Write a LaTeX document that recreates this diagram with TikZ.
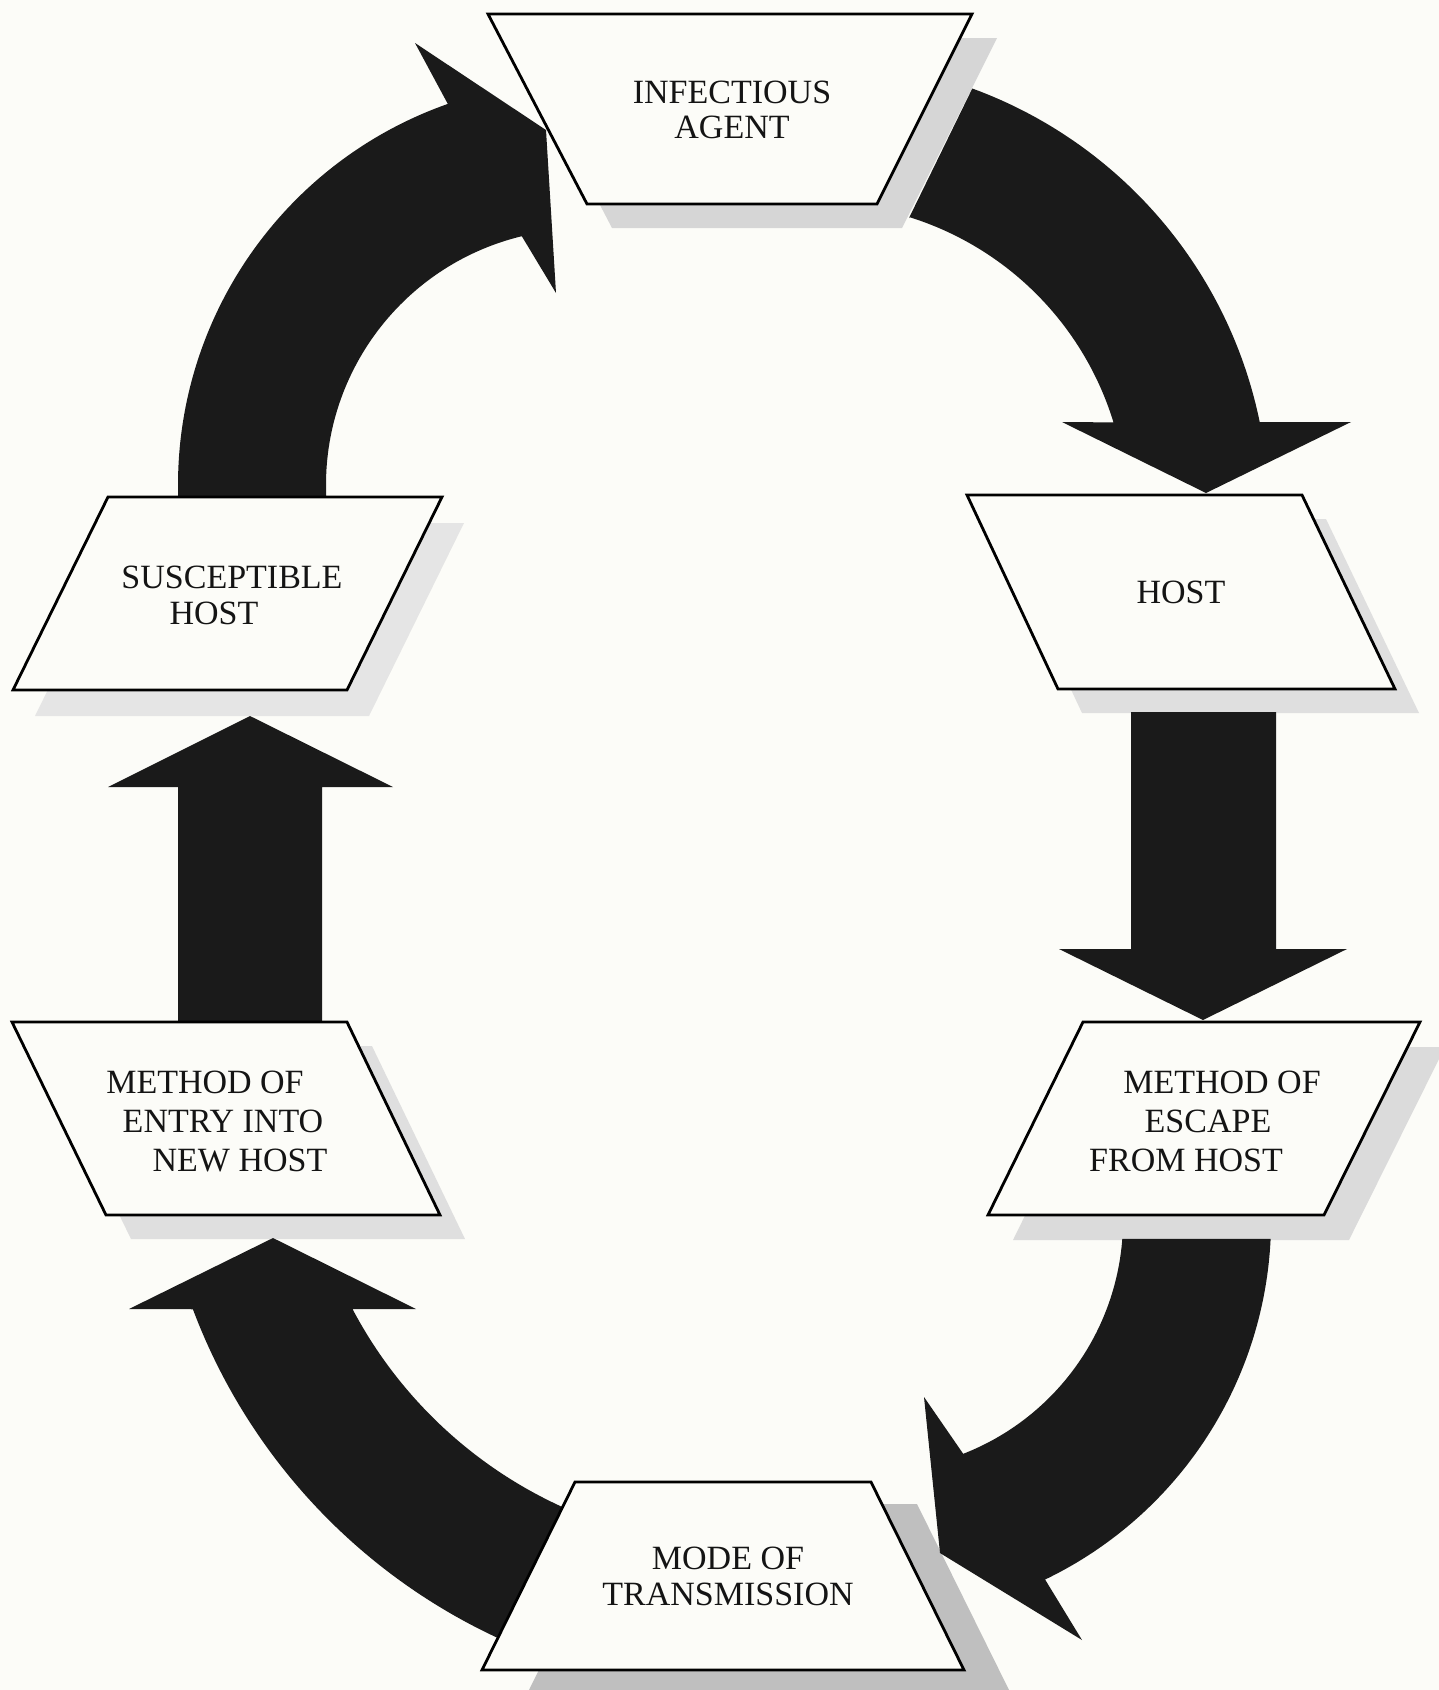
\documentclass[tikz,border=0pt]{standalone}
\usepackage{fontspec}
\setmainfont{Liberation Serif}
\usepackage{tikz}
\definecolor{paper}{RGB}{252,252,248}
\definecolor{ink}{RGB}{26,26,26}
\newcommand{\shiftline}[2]{\makebox[0pt][c]{\hspace*{#1}#2}}
\tikzset{
  box/.style={draw=black,line width=2.8pt,fill=paper,line join=miter},
  shadowfill/.style={fill=gray!#1},
  blockarrow/.style={fill=ink},
  lbl/.style={font=\fontsize{34}{37}\selectfont,align=center,inner sep=0pt,text=black!92},
}
\begin{document}
\begin{tikzpicture}[x=1pt,y=-1pt]
\fill[paper] (0,0) rectangle (1439,1690);
\useasboundingbox (0,0) rectangle (1439,1690);

% ---------- shadows ----------
\fill[shadowfill=32,shift={(25,24)}] (488,14) -- (972,14) -- (877,204) -- (587,204) -- cycle;
\fill[shadowfill=20,shift={(22,26)}] (108,497) -- (442,497) -- (347,690) -- (13,690) -- cycle;
\fill[shadowfill=25,shift={(24,24)}] (967,495) -- (1302,495) -- (1395,689) -- (1058,689) -- cycle;
\fill[shadowfill=25,shift={(25,24)}] (12,1022) -- (347,1022) -- (440,1215) -- (106,1215) -- cycle;
\fill[shadowfill=28,shift={(25,25)}] (1083,1022) -- (1420,1022) -- (1324,1215) -- (988,1215) -- cycle;
\fill[shadowfill=50,shift={(46,22)}] (575,1482) -- (871,1482) -- (964,1670) -- (482,1670) -- cycle;

% ---------- block arrows ----------
% susceptible host -> infectious agent (arc centre (582,485))
\fill[blockarrow] (178.5,504.7) arc[start angle=177.2, end angle=250.6, radius=404]
  -- (415,43) -- (546,130) -- (556,293) -- (521.8,236.2)
  arc[start angle=256.4, end angle=175.5, radius=256] -- cycle;
% infectious agent -> host (arc centre (817,513))
\fill[blockarrow] (909,218) -- (972.3,88.5) arc[start angle=-69.9, end angle=-11.6, radius=452]
  -- (1351,422) -- (1206,493) -- (1062,422) -- (1113.5,422.4)
  arc[start angle=-17, end angle=-72.7, radius=310] -- cycle;
% host -> method of escape
\fill[blockarrow] (1131,712) -- (1276,712) -- (1276,949) -- (1347,949) -- (1203,1020)
  -- (1059,949) -- (1131,949) -- cycle;
% method of escape -> mode of transmission (arc centre (872,1220))
\fill[blockarrow] (1122.3,1238.9) -- (1270.6,1238.8) arc[start angle=2.7, end angle=64.3, radius=399]
  -- (1082,1640) -- (940,1553) -- (924,1397) -- (963.2,1453.8)
  arc[start angle=68.7, end angle=4.3, radius=251] -- cycle;
% mode of transmission -> method of entry (arc centre (747,1101))
\fill[blockarrow] (564.1,1664) arc[start angle=108, end angle=159.4, radius=592]
  -- (129,1309) -- (273,1238) -- (416,1309) -- (352.5,1309)
  arc[start angle=152.2, end angle=110, radius=446] -- cycle;
% method of entry -> susceptible host
\fill[blockarrow] (178,1025) -- (178,787) -- (108,787) -- (250,716) -- (393,787)
  -- (322,787) -- (322,1025) -- cycle;

% ---------- boxes ----------
\draw[box] (488,14) -- (972,14) -- (877,204) -- (587,204) -- cycle;
\draw[box] (108,497) -- (442,497) -- (347,690) -- (13,690) -- cycle;
\draw[box] (967,495) -- (1302,495) -- (1395,689) -- (1058,689) -- cycle;
\draw[box] (12,1022) -- (347,1022) -- (440,1215) -- (106,1215) -- cycle;
\draw[box] (1083,1022) -- (1420,1022) -- (1324,1215) -- (988,1215) -- cycle;
\draw[box] (575,1482) -- (871,1482) -- (964,1670) -- (482,1670) -- cycle;

% ---------- labels ----------
\node[lbl,font=\fontsize{34}{35}\selectfont] (agent) at (732,110) {INFECTIOUS\\AGENT};
\node[lbl,font=\fontsize{34}{36}\selectfont] (suscept) at (223,595)
  {\shiftline{18pt}{SUSCEPTIBLE}\\\shiftline{-18pt}{HOST}};
\node[lbl] (host) at (1181,592) {HOST};
\node[lbl,font=\fontsize{34}{39}\selectfont] (entry) at (223,1121)
  {\shiftline{-36pt}{METHOD OF}\\\shiftline{0pt}{ENTRY INTO}\\\shiftline{34pt}{NEW HOST}};
\node[lbl,font=\fontsize{34}{39}\selectfont] (escape) at (1208,1121)
  {\shiftline{28pt}{METHOD OF}\\\shiftline{0pt}{ESCAPE}\\\shiftline{-44pt}{FROM HOST}};
\node[lbl,font=\fontsize{34}{36}\selectfont] (mode) at (728,1576) {MODE OF\\TRANSMISSION};
\end{tikzpicture}
\end{document}
